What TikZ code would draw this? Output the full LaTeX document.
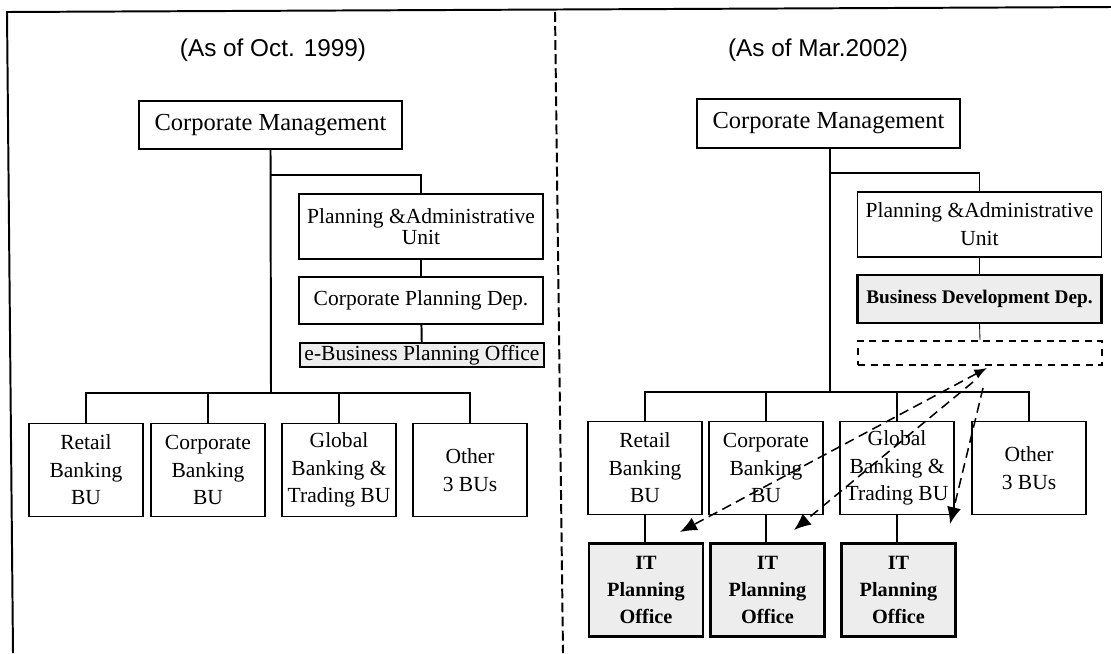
\documentclass[tikz,border=0pt]{standalone}
\usepackage{fontspec}
\setmainfont{Liberation Serif}
\newfontfamily\titlefont{Liberation Sans}
\usetikzlibrary{arrows.meta}

\newlength\pxl
\setlength\pxl{0.025cm}

\tikzset{
  unit/.style={draw, line width=1.1pt, align=center, inner sep=1pt,
    minimum width=244\pxl, font=\fontsize{15.3}{19.6}\selectfont},
  bu/.style={unit, minimum width=114\pxl, minimum height=93\pxl},
  shaded/.style={fill=gray!14},
  itoffice/.style={bu, shaded, line width=1.7pt,
    font=\bfseries\fontsize{14.4}{19}\selectfont},
  heading/.style={font=\titlefont\fontsize{17.3}{20}\selectfont},
  link/.style={line width=1.4pt},
  move/.style={line width=1.1pt, dash pattern=on 7pt off 4pt,
    -{Latex[length=12pt,width=10pt]}},
}

\begin{document}
\begin{tikzpicture}[x=0.025cm, y=-0.025cm]
\useasboundingbox (0,0) rectangle (1111,653);

% frame and divider
\draw[line width=1.4pt] (13,653) -- (7,12) -- (1111,7);
\draw[line width=1.4pt, dash pattern=on 7pt off 3pt] (555,12) -- (563,653);

% ---- left: Oct. 1999 ----
\node[heading] (titleL) at (273,50) {(As of Oct. 1999)};
\node[unit, minimum width=263\pxl, minimum height=48\pxl,
  font=\fontsize{17.4}{20}\selectfont] (cmL) at (270.5,125) {Corporate Management};
\node[unit, minimum height=65\pxl, font=\fontsize{15.3}{12.3}\selectfont]
  (paL) at (421,226.5) {Planning \&Administrative\\Unit};
\node[unit, minimum height=47\pxl] (cpdL) at (421,300.5) {Corporate Planning Dep.};
\node[unit, shaded, line width=1.5pt, minimum height=24\pxl, inner sep=0pt]
  (ebpL) at (422,355) {e-Business Planning Office};

\node[bu] (retL) at (86,470) {Retail\\Banking\\BU};
\node[bu] (corL) at (208,470) {Corporate\\Banking\\BU};
\node[bu] (gloL) at (339,470) {Global\\Banking \&\\Trading BU};
\node[bu] (othL) at (470,470) {Other\\3 BUs};

\coordinate (forkL) at (271,175);
\coordinate (barL) at (271,393);
\draw[link] (cmL.south) -- (barL);
\draw[link] (forkL) -| (paL.north);
\draw[link] (paL) -- (cpdL);
\draw[link] (cpdL) -- (ebpL);
\draw[link] (retL.north) |- (barL) -| (othL.north);
\draw[link] (corL.north) -- (corL.north |- barL);
\draw[link] (gloL.north) -- (gloL.north |- barL);

% ---- right: Mar. 2002 ----
\node[heading] (titleR) at (818,50) {(As of Mar.2002)};
\node[unit, minimum width=263\pxl, minimum height=49\pxl,
  font=\fontsize{17.4}{20}\selectfont] (cmR) at (828.5,123.5) {Corporate Management};
\node[unit, minimum height=65\pxl, font=\fontsize{15.3}{20}\selectfont]
  (paR) at (979.5,224.5) {Planning \&Administrative\\Unit};
\node[unit, shaded, line width=1.5pt, minimum height=48\pxl,
  font=\bfseries\fontsize{13.7}{16}\selectfont] (bddR) at (979.5,299) {Business Development Dep.};
\node[unit, dash pattern=on 5pt off 4pt, minimum height=24\pxl] (newR) at (980,353) {};

\node[bu] (retR) at (645,468) {Retail\\Banking\\BU};
\node[bu] (corR) at (766,468) {Corporate\\Banking\\BU};
\node[bu] (gloR) at (897,468) {Global\\Banking \&\\Trading BU};
\node[bu] (othR) at (1029,468) {Other\\3 BUs};

\node[itoffice] (itR1) at (646,590) {IT\\Planning\\Office};
\node[itoffice] (itR2) at (767.5,590) {IT\\Planning\\Office};
\node[itoffice] (itR3) at (898.5,590) {IT\\Planning\\Office};

\coordinate (forkR) at (830,173);
\coordinate (barR) at (830,392);
\draw[link] (cmR.south -| barR) -- (barR);
\draw[link] (forkR) -| (paR.north);
\draw[link] (paR) -- (bddR);
\draw[line width=0.6pt] (bddR.south) -- (newR.north);
\draw[link] (retR.north) |- (barR) -| (othR.north);
\draw[link] (corR.north) -- (corR.north |- barR);
\draw[link] (gloR.north) -- (gloR.north |- barR);
\draw[link] (retR.south) -- (retR.south |- itR1.north);
\draw[link] (corR.south) -- (corR.south |- itR2.north);
\draw[link] (gloR.south) -- (gloR.south |- itR3.north);

% moves of the planning work to the BUs
\coordinate (backA) at (987,368);
\coordinate (srcB) at (973,382);
\coordinate (srcC) at (983,388);
\coordinate (tipA) at (680,532);
\coordinate (tipB) at (794,530);
\coordinate (tipC) at (950,524);
\draw[move, {Latex[length=9pt,width=7pt]}-{Latex[length=12pt,width=10pt]}] (backA) -- (tipA);
\draw[move] (srcB) -- (tipB);
\draw[move] (srcC) -- (tipC);
\end{tikzpicture}
\end{document}
